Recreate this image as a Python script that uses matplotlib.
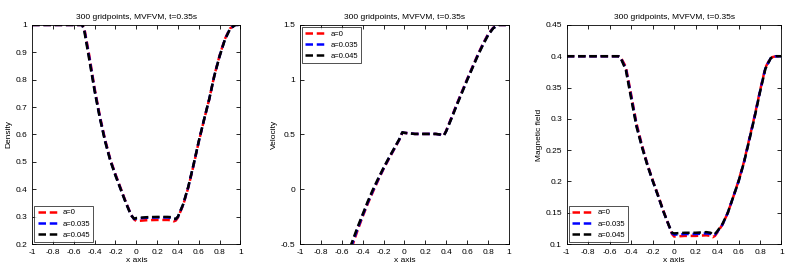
import numpy as np
import matplotlib
matplotlib.use("Agg")
import matplotlib.pyplot as plt

plt.rcParams['font.family'] = ['Liberation Sans', 'DejaVu Sans']

# shared x positions of the sampled profile
x = [-1.0, -0.6, -0.55, -0.52, -0.5, -0.45, -0.4, -0.35, -0.3, -0.25, -0.2, -0.15, -0.1, -0.05, -0.02,
     0.0, 0.1, 0.2, 0.3, 0.34, 0.36, 0.38, 0.4, 0.45, 0.5, 0.55, 0.6, 0.65, 0.7, 0.75, 0.8, 0.85, 0.9, 0.95, 1.0]

labels = ["a=0", "a=0.035", "a=0.045"]
colors = ["red", "blue", "black"]

# density
rho_a0 = [1.0, 1.0, 1.0, 1.0, 0.99, 0.885, 0.768, 0.668, 0.582, 0.51, 0.455, 0.404, 0.353, 0.307, 0.29,
          0.284, 0.287, 0.288, 0.288, 0.287, 0.283, 0.286, 0.297, 0.342, 0.407, 0.487, 0.573, 0.652, 0.728, 0.816, 0.888, 0.948, 0.987, 1.0, 1.0]
rho_a1 = [1.0, 1.0, 1.0, 1.0, 0.985, 0.877, 0.762, 0.663, 0.578, 0.507, 0.452, 0.401, 0.351, 0.306, 0.291,
          0.293, 0.296, 0.297, 0.297, 0.296, 0.292, 0.291, 0.299, 0.344, 0.409, 0.489, 0.574, 0.653, 0.728, 0.815, 0.886, 0.946, 0.986, 1.0, 1.0]
rho_a2 = [1.0, 1.0, 1.0, 1.0, 0.98, 0.87, 0.758, 0.66, 0.575, 0.505, 0.45, 0.40, 0.35, 0.305, 0.292,
          0.295, 0.298, 0.299, 0.299, 0.298, 0.293, 0.292, 0.30, 0.345, 0.41, 0.49, 0.575, 0.653, 0.728, 0.815, 0.885, 0.945, 0.985, 1.0, 1.0]

# velocity
u_a0 = [-0.75, -0.75, -0.68, -0.58, -0.52, -0.38, -0.25, -0.13, -0.02, 0.085, 0.185, 0.275, 0.362, 0.45, 0.515,
        0.515, 0.505, 0.505, 0.505, 0.50, 0.49, 0.495, 0.535, 0.655, 0.775, 0.89, 1.005, 1.115, 1.225, 1.325, 1.415, 1.475, 1.5, 1.5, 1.5]
u_a1 = [-0.75, -0.75, -0.64, -0.55, -0.5, -0.365, -0.24, -0.12, -0.01, 0.092, 0.19, 0.28, 0.366, 0.452, 0.518,
        0.515, 0.505, 0.505, 0.505, 0.50, 0.49, 0.495, 0.532, 0.65, 0.77, 0.885, 1.0, 1.11, 1.22, 1.32, 1.41, 1.472, 1.5, 1.5, 1.5]
u_a2 = [-0.75, -0.75, -0.62, -0.53, -0.48, -0.35, -0.23, -0.11, 0.0, 0.10, 0.195, 0.285, 0.37, 0.455, 0.52,
        0.515, 0.505, 0.505, 0.505, 0.50, 0.49, 0.495, 0.53, 0.645, 0.765, 0.88, 0.995, 1.105, 1.215, 1.315, 1.405, 1.47, 1.5, 1.5, 1.5]

# magnetic field
b_a0 = [0.4, 0.4, 0.4, 0.4, 0.399, 0.383, 0.338, 0.292, 0.258, 0.228, 0.202, 0.178, 0.153, 0.13, 0.116,
        0.112, 0.113, 0.113, 0.114, 0.113, 0.111, 0.113, 0.118, 0.131, 0.15, 0.175, 0.201, 0.231, 0.268, 0.305, 0.345, 0.382, 0.398, 0.4, 0.4]
b_a1 = [0.4, 0.4, 0.4, 0.4, 0.398, 0.38, 0.335, 0.289, 0.256, 0.227, 0.201, 0.177, 0.152, 0.13, 0.117,
        0.115, 0.116, 0.116, 0.117, 0.116, 0.114, 0.115, 0.119, 0.131, 0.15, 0.175, 0.2, 0.23, 0.267, 0.304, 0.344, 0.381, 0.397, 0.4, 0.4]
b_a2 = [0.4, 0.4, 0.4, 0.4, 0.398, 0.378, 0.332, 0.287, 0.255, 0.226, 0.201, 0.177, 0.152, 0.13, 0.118,
        0.117, 0.118, 0.118, 0.119, 0.118, 0.115, 0.116, 0.12, 0.132, 0.15, 0.175, 0.2, 0.23, 0.266, 0.303, 0.343, 0.38, 0.397, 0.4, 0.4]

panels = [
    ([rho_a0, rho_a1, rho_a2], "Density", (0.2, 1.0), np.arange(0.2, 1.01, 0.1), "lower left"),
    ([u_a0, u_a1, u_a2], "Velocity", (-0.5, 1.5), [-0.5, 0, 0.5, 1, 1.5], "upper left"),
    ([b_a0, b_a1, b_a2], "Magnetic field", (0.1, 0.45), np.arange(0.1, 0.451, 0.05), "lower left"),
]
positions = [
    [0.040, 0.119, 0.259, 0.791],
    [0.373, 0.119, 0.260, 0.791],
    [0.705, 0.119, 0.267, 0.791],
]

fig = plt.figure(figsize=(8.04, 2.77), dpi=100)
for (series, ylab, ylim, yticks, loc), pos in zip(panels, positions):
    ax = fig.add_axes(pos)
    for y, c, lab in zip(series, colors, labels):
        ax.plot(x, y, color=c, linestyle="--", linewidth=1.8, dashes=(3, 1.5), label=lab)
    ax.set_xlim(-1, 1)
    ax.set_ylim(*ylim)
    ax.set_xticks(np.arange(-1, 1.01, 0.2))
    ax.set_xticklabels(["-1", "-0.8", "-0.6", "-0.4", "-0.2", "0", "0.2", "0.4", "0.6", "0.8", "1"])
    ax.set_yticks(yticks)
    ax.set_yticklabels(["%g" % round(v, 2) for v in yticks])
    ax.tick_params(direction="in", length=3, labelsize=6, top=True, right=True, width=0.6)
    for s in ax.spines.values():
        s.set_linewidth(0.6)
    ax.set_xlabel("x axis", fontsize=6, labelpad=1)
    ax.set_ylabel(ylab, fontsize=6, labelpad=2)
    ax.set_title("300 gridpoints, MVFVM, t=0.35s", fontsize=6, pad=4)
    leg = ax.legend(loc=loc, fontsize=5.5, fancybox=False, edgecolor="black",
                    handlelength=2.5, borderaxespad=0.3, labelspacing=0.5)
    leg.get_frame().set_linewidth(0.6)

fig.savefig("out.png", dpi=100)
